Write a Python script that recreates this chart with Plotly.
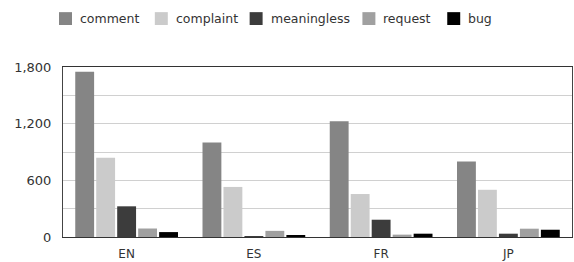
import plotly.graph_objects as go

categories = ["EN", "ES", "FR", "JP"]
series_names = ["comment", "complaint", "meaningless", "request", "bug"]
comment = [1750, 1000, 1225, 800]
complaint = [840, 530, 455, 500]
meaningless = [325, 2, 183, 35]
request = [90, 65, 25, 88]
bug = [52, 15, 35, 77]
colors = ["#858585", "#cbcbcb", "#3c3c3c", "#a0a0a0", "#000000"]
y_ticks = [0, 600, 1200, 1800]
y_tick_labels = ["0", "600", "1,200", "1,800"]

values = [comment, complaint, meaningless, request, bug]

W, H = 574, 262
ML, MR, MT, MB = 63, 1, 67, 23
PW, PH = W - ML - MR, H - MT - MB

def px_x(px):
    return (px - ML) / PW

def px_y(py):
    return (H - MB - py) / PH

fig = go.Figure()
for name, vals, col in zip(series_names, values, colors):
    fig.add_trace(go.Bar(name=name, x=categories, y=vals, showlegend=False,
                         marker=dict(color=col, line=dict(width=0))))

# custom legend (square swatches + labels) laid out like the reference
legend_sq_x = [59, 155, 250, 363, 448]
shapes = []
annotations = []
for name, col, sx in zip(series_names, colors, legend_sq_x):
    shapes.append(dict(type="rect", xref="paper", yref="paper",
                       x0=px_x(sx), x1=px_x(sx + 13), y0=px_y(24.5), y1=px_y(11.5),
                       fillcolor=col, line=dict(width=0)))
    annotations.append(dict(text=name, xref="paper", yref="paper",
                            x=px_x(sx + 19), y=px_y(18), xanchor="left", yanchor="middle",
                            showarrow=False, font=dict(size=12.5, color="#333333")))

fig.update_layout(
    width=W, height=H,
    margin=dict(l=ML, r=MR, t=MT, b=MB),
    paper_bgcolor="white", plot_bgcolor="white",
    barmode="group", bargap=0.176, bargroupgap=0.1,
    font=dict(family="DejaVu Sans", size=12, color="#333333"),
    showlegend=False,
    shapes=shapes, annotations=annotations,
)
fig.update_xaxes(showline=True, linecolor="#333333", linewidth=1, mirror=True,
                 ticks="", tickfont=dict(size=12), showgrid=False, ticklabelstandoff=6)
fig.update_yaxes(range=[0, 1800], tickvals=y_ticks, ticktext=y_tick_labels,
                 showline=True, linecolor="#444444", linewidth=1, mirror=True,
                 showgrid=True, gridcolor="#d0d0d0", gridwidth=1,
                 minor=dict(dtick=300, showgrid=True, gridcolor="#d0d0d0"),
                 ticks="", tickfont=dict(size=13), zeroline=False, ticklabelstandoff=8)

fig.write_html("out.html", config={"displayModeBar": False},
               post_script="document.body.style.margin='0';")
